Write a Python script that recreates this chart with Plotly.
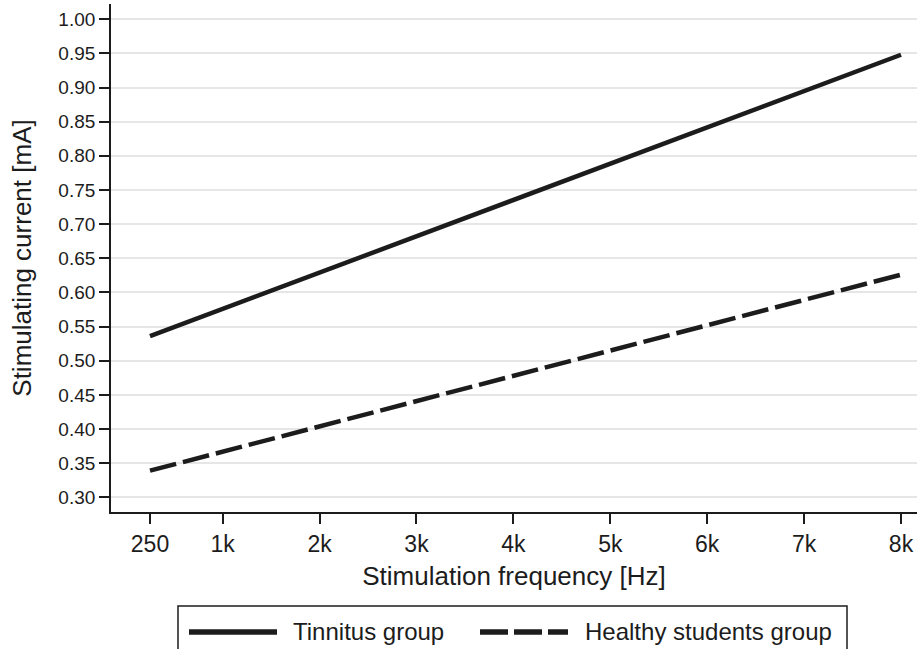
import plotly.graph_objects as go

# Stimulation frequencies (Hz) and fitted stimulating current (mA)
frequency_hz = [250, 8000]
tinnitus_ma = [0.536, 0.948]
healthy_ma = [0.339, 0.626]

x_tick_values = [250, 1000, 2000, 3000, 4000, 5000, 6000, 7000, 8000]
x_tick_labels = ["250", "1k", "2k", "3k", "4k", "5k", "6k", "7k", "8k"]
y_tick_values = [0.30, 0.35, 0.40, 0.45, 0.50, 0.55, 0.60, 0.65, 0.70,
                 0.75, 0.80, 0.85, 0.90, 0.95, 1.00]

series_names = ["Tinnitus group", "Healthy students group"]

W, H = 917, 649
ML, MR, MT, MB = 111, 0, 4, 137
PW, PH = W - ML - MR, H - MT - MB

INK = "#1c1c1c"
FONT = "Liberation Sans, Arial, sans-serif"
DASH = "27px,7px"


def px_x(x):
    return (x - ML) / PW


def px_y(y):
    return (H - MB - y) / PH


fig = go.Figure()
fig.add_trace(go.Scatter(x=frequency_hz, y=tinnitus_ma, mode="lines",
                         name=series_names[0],
                         line=dict(color=INK, width=4.5)))
fig.add_trace(go.Scatter(x=frequency_hz, y=healthy_ma, mode="lines",
                         name=series_names[1],
                         line=dict(color=INK, width=4.5, dash=DASH)))

# Legend box drawn below the x-axis title
shapes = [
    dict(type="rect", xref="paper", yref="paper",
         x0=px_x(178), x1=px_x(847), y0=px_y(662), y1=px_y(606),
         line=dict(color=INK, width=1.5), fillcolor="white", layer="above"),
    dict(type="line", xref="paper", yref="paper",
         x0=px_x(189), x1=px_x(277), y0=px_y(632), y1=px_y(632),
         line=dict(color=INK, width=5.5), layer="above"),
    dict(type="line", xref="paper", yref="paper",
         x0=px_x(480), x1=px_x(568), y0=px_y(632), y1=px_y(632),
         line=dict(color=INK, width=5.5, dash="28px,6px"), layer="above"),
]
annotations = [
    dict(text=series_names[0], xref="paper", yref="paper",
         x=px_x(291), y=px_y(631), xanchor="left", yanchor="middle",
         showarrow=False, font=dict(size=24, color=INK, family=FONT)),
    dict(text=series_names[1], xref="paper", yref="paper",
         x=px_x(583), y=px_y(631), xanchor="left", yanchor="middle",
         showarrow=False, font=dict(size=24, color=INK, family=FONT)),
]

fig.update_layout(
    width=W, height=H,
    margin=dict(l=ML, r=MR, t=MT, b=MB, pad=0),
    paper_bgcolor="white", plot_bgcolor="white",
    font=dict(family=FONT, color=INK),
    showlegend=False,
    shapes=shapes,
    annotations=annotations,
    xaxis=dict(
        range=[-152.5, 8165],
        tickmode="array", tickvals=x_tick_values, ticktext=x_tick_labels,
        ticks="outside", ticklen=10, tickwidth=1.8, tickcolor=INK,
        tickfont=dict(size=23, color=INK),
        showline=True, linecolor=INK, linewidth=1.8,
        showgrid=False, zeroline=False,
        title=dict(text="Stimulation frequency [Hz]",
                   font=dict(size=26, color=INK), standoff=11),
    ),
    yaxis=dict(
        range=[0.2785, 1.0223],
        tickmode="array", tickvals=y_tick_values, tickformat=".2f",
        ticks="outside", ticklen=10, tickwidth=1.8, tickcolor=INK,
        tickfont=dict(size=19, color=INK),
        showline=True, linecolor=INK, linewidth=1.8,
        showgrid=True, gridcolor="#e6e6e6", gridwidth=1.6,
        zeroline=False,
        title=dict(text="Stimulating current [mA]",
                   font=dict(size=26, color=INK), standoff=19),
    ),
)

fig.write_html("out.html")
